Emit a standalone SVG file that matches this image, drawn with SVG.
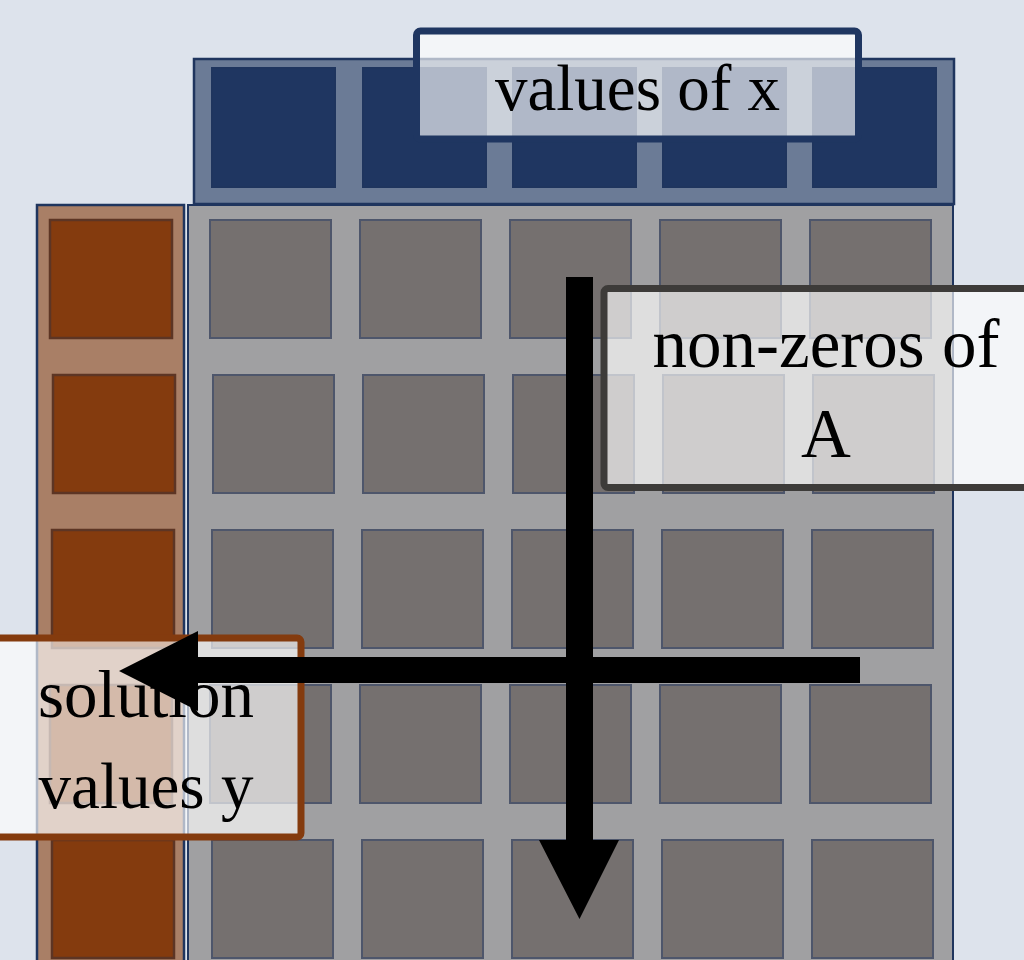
<svg xmlns="http://www.w3.org/2000/svg" width="1024" height="960" viewBox="0 0 1024 960">
  <style>
    .panel-x { fill: #6b7b96; stroke: #1f355e; stroke-width: 2.5; }
    .panel-a { fill: #a0a0a2; stroke: #1f355e; stroke-width: 2; }
    .panel-y { fill: #a97f66; stroke: #1f355e; stroke-width: 2.5; }
    .cell-x { fill: #1f3661; stroke: #1f355e; stroke-width: 2; }
    .cell-a { fill: #75706f; stroke: #4e566b; stroke-width: 2; }
    .cell-y { fill: #843b0e; stroke: #5d3524; stroke-width: 2.5; }
    .label { fill: #ffffff; fill-opacity: 0.65; stroke-width: 7; }
    .label-text { font-family: "Liberation Serif", "Times New Roman", serif; fill: #000; text-anchor: middle; }
    .arrow { fill: #000; }
  </style>

  <rect width="1024" height="960" fill="#dde3ec"/>

  <!-- vector x -->
  <g id="vector-x">
    <rect class="panel-x" x="194" y="59" width="760" height="145"/>
    <rect class="cell-x" x="212" y="68" width="123" height="119"/>
    <rect class="cell-x" x="363" y="68" width="123" height="119"/>
    <rect class="cell-x" x="513" y="68" width="123" height="119"/>
    <rect class="cell-x" x="663" y="68" width="123" height="119"/>
    <rect class="cell-x" x="813" y="68" width="123" height="119"/>
  </g>

  <!-- result vector y -->
  <g id="vector-y">
    <rect class="panel-y" x="37" y="205" width="147" height="770"/>
    <rect class="cell-y" x="50" y="220" width="122" height="118"/>
    <rect class="cell-y" x="53" y="375" width="122" height="118"/>
    <rect class="cell-y" x="52" y="530" width="122" height="118"/>
    <rect class="cell-y" x="50" y="685" width="122" height="118"/>
    <rect class="cell-y" x="52" y="840" width="122" height="118"/>
  </g>

  <!-- sparse matrix A -->
  <g id="matrix-a">
    <rect class="panel-a" x="188" y="205" width="765" height="770"/>
    <rect class="cell-a" x="210" y="220" width="121" height="118"/>
    <rect class="cell-a" x="360" y="220" width="121" height="118"/>
    <rect class="cell-a" x="510" y="220" width="121" height="118"/>
    <rect class="cell-a" x="660" y="220" width="121" height="118"/>
    <rect class="cell-a" x="810" y="220" width="121" height="118"/>

    <rect class="cell-a" x="213" y="375" width="121" height="118"/>
    <rect class="cell-a" x="363" y="375" width="121" height="118"/>
    <rect class="cell-a" x="513" y="375" width="121" height="118"/>
    <rect class="cell-a" x="663" y="375" width="121" height="118"/>
    <rect class="cell-a" x="813" y="375" width="121" height="118"/>

    <rect class="cell-a" x="212" y="530" width="121" height="118"/>
    <rect class="cell-a" x="362" y="530" width="121" height="118"/>
    <rect class="cell-a" x="512" y="530" width="121" height="118"/>
    <rect class="cell-a" x="662" y="530" width="121" height="118"/>
    <rect class="cell-a" x="812" y="530" width="121" height="118"/>

    <rect class="cell-a" x="210" y="685" width="121" height="118"/>
    <rect class="cell-a" x="360" y="685" width="121" height="118"/>
    <rect class="cell-a" x="510" y="685" width="121" height="118"/>
    <rect class="cell-a" x="660" y="685" width="121" height="118"/>
    <rect class="cell-a" x="810" y="685" width="121" height="118"/>

    <rect class="cell-a" x="212" y="840" width="121" height="118"/>
    <rect class="cell-a" x="362" y="840" width="121" height="118"/>
    <rect class="cell-a" x="512" y="840" width="121" height="118"/>
    <rect class="cell-a" x="662" y="840" width="121" height="118"/>
    <rect class="cell-a" x="812" y="840" width="121" height="118"/>
  </g>

  <!-- labels -->
  <g id="label-x">
    <rect class="label" x="416.5" y="31" width="442" height="108" rx="4" stroke="#1f3661"/>
    <text class="label-text" x="637.5" y="110" font-size="65">values of x</text>
  </g>

  <g id="label-a">
    <rect class="label" x="604" y="288.5" width="444" height="199" rx="4" stroke="#3d3b39"/>
    <text class="label-text" x="826" y="367" font-size="69">non-zeros of</text>
    <text class="label-text" x="826" y="457" font-size="69">A</text>
  </g>

  <g id="label-y">
    <rect class="label" x="-10" y="638" width="311" height="199" rx="4" stroke="#843b0e"/>
    <text class="label-text" x="146" y="717" font-size="67">solution</text>
    <text class="label-text" x="146" y="808" font-size="65">values y</text>
  </g>

  <!-- traversal arrows -->
  <g id="connectors">
    <path class="arrow" d="M566 277 H593 V840 H619 L579.5 919 L539 840 H566 Z"/>
    <path class="arrow" d="M860 657 V683 H198 V711 L119 671 L198 631 V657 Z"/>
  </g>
</svg>
